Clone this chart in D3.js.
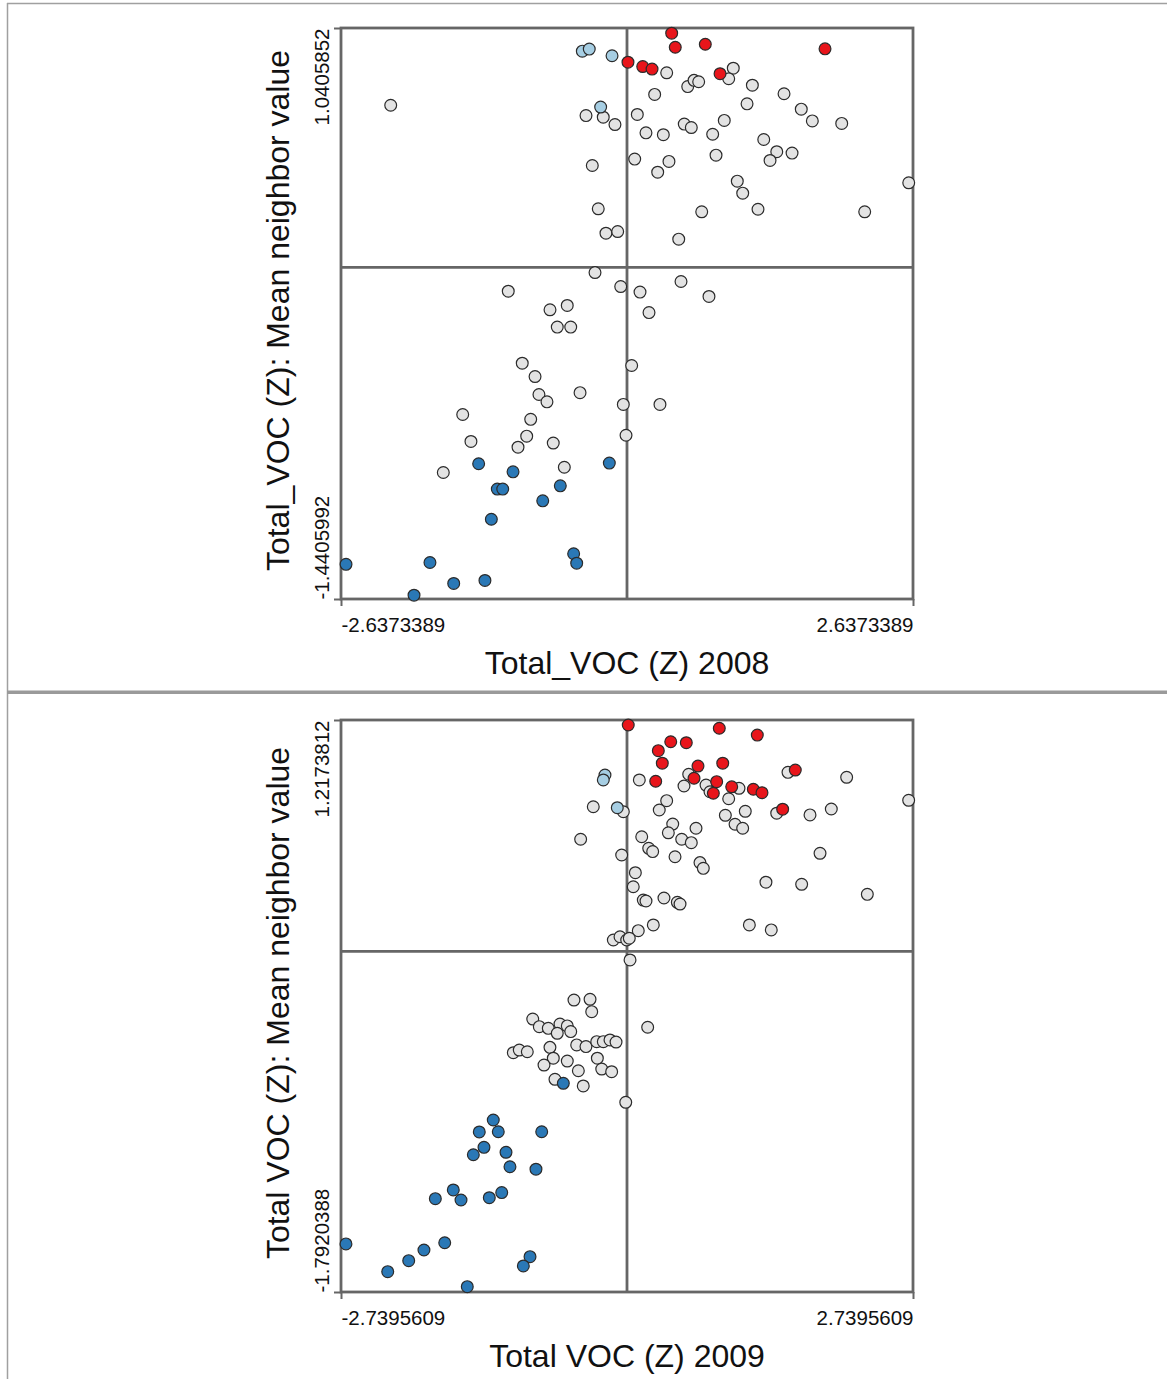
<!DOCTYPE html>
<html><head><meta charset="utf-8">
<script src="https://cdn.jsdelivr.net/npm/d3@7"></script>
<style>
html,body{margin:0;padding:0;background:#fff;}
svg{display:block;font-family:"Liberation Sans",Arial,sans-serif;}
</style></head>
<body>
<svg id="chart" width="1167" height="1379"></svg>
<script>
// ---------- 2008 panel ----------
const xDomain2008 = [-2.6373389, 2.6373389];
const yDomain2008 = [-1.4405992, 1.0405852];
const xTicks2008 = ["-2.6373389", "2.6373389"];
const yTicks2008 = ["-1.4405992", "1.0405852"];
const xTitle2008 = "Total_VOC (Z) 2008";
const yTitle2008 = "Total_VOC (Z): Mean neighbor value";

const ns08x = [-2.179,-0.378,-0.219,-0.111,-0.320,-0.265,-0.194,-0.086,-0.295,0.366,0.980,0.938,0.560,0.618,0.661,1.156,0.255,1.448,1.107,1.607,1.709,1.980,0.095,0.175,0.335,0.528,0.593,0.897,0.790,1.261,1.381,1.522,1.319,0.821,0.387,0.283,0.071,1.017,1.067,2.598,0.689,1.208,2.192,0.477,-0.058,0.120,0.498,0.756,0.203,0.304,-1.095,-0.710,-0.551,-0.643,-0.519,-0.966,-0.848,0.043,-0.812,-0.738,-0.433,-0.034,-1.515,-0.888,-0.925,-1.005,-1.439,-0.680,-0.009,-1.694,-0.578];
const ns08y = [0.705,0.660,0.653,0.621,0.443,0.255,0.149,0.156,-0.022,0.846,0.866,0.820,0.786,0.813,0.807,0.792,0.752,0.755,0.711,0.688,0.637,0.626,0.665,0.585,0.577,0.623,0.608,0.639,0.579,0.556,0.503,0.497,0.465,0.488,0.461,0.414,0.471,0.375,0.323,0.368,0.242,0.253,0.242,0.123,-0.083,-0.107,-0.061,-0.126,-0.196,-0.595,-0.103,-0.184,-0.165,-0.259,-0.259,-0.416,-0.474,-0.426,-0.552,-0.584,-0.544,-0.595,-0.639,-0.660,-0.733,-0.781,-0.756,-0.763,-0.729,-0.891,-0.868];
const hh08x = [0.412,0.445,0.722,1.826,0.009,0.145,0.231,0.858];
const hh08y = [1.018,0.957,0.970,0.950,0.892,0.873,0.862,0.842];
const lh08x = [-0.412,-0.348,-0.138,-0.243];
const lh08y = [0.940,0.949,0.920,0.697];
const ll08x = [-1.368,-1.051,-1.196,-1.146,-0.163,-0.615,-0.777,-1.251,-0.492,-0.464,-2.591,-1.817,-1.598,-1.310,-1.964];
const ll08y = [-0.853,-0.888,-0.963,-0.963,-0.850,-0.949,-1.014,-1.094,-1.244,-1.285,-1.290,-1.282,-1.373,-1.360,-1.424];

// ---------- 2009 panel ----------
const xDomain2009 = [-2.7395609, 2.7395609];
const yDomain2009 = [-1.7920388, 1.2173812];
const xTicks2009 = ["-2.7395609", "2.7395609"];
const yTicks2009 = ["-1.7920388", "1.2173812"];
const xTitle2009 = "Total VOC (Z) 2009";
const yTitle2009 = "Total VOC (Z): Mean neighbor value";

const ns09x = [-0.323,-0.035,-0.444,-0.051,-0.131,-0.067,-0.003,1.542,2.104,2.698,0.118,0.591,0.546,0.757,0.795,1.073,0.974,0.380,0.309,1.133,0.942,1.434,1.753,1.957,1.035,1.108,0.438,0.396,0.661,0.524,0.616,0.141,0.208,0.246,0.460,0.699,0.731,1.849,0.080,0.060,1.331,1.673,2.302,0.156,0.182,0.354,0.482,0.508,0.252,1.172,1.382,0.108,0.022,0.029,-0.508,-0.354,-0.338,-0.903,-0.840,-0.754,-0.642,-0.572,-0.668,-0.539,-0.482,-0.393,-0.290,-0.227,-0.163,-0.105,-0.738,-1.089,-1.032,-0.955,-0.706,-0.572,-0.795,-0.284,-0.242,-0.147,-0.466,-0.690,-0.419,0.198,-0.012];
const ns09y = [0.761,0.735,0.590,0.507,0.060,0.077,0.060,0.942,0.916,0.795,0.902,0.932,0.870,0.875,0.840,0.858,0.803,0.793,0.744,0.737,0.716,0.727,0.718,0.749,0.669,0.648,0.670,0.624,0.648,0.590,0.572,0.603,0.542,0.525,0.498,0.467,0.437,0.516,0.414,0.340,0.364,0.353,0.300,0.270,0.265,0.281,0.258,0.249,0.139,0.139,0.113,0.109,0.069,-0.045,-0.256,-0.252,-0.317,-0.356,-0.396,-0.405,-0.382,-0.392,-0.431,-0.422,-0.492,-0.501,-0.475,-0.475,-0.466,-0.477,-0.505,-0.533,-0.519,-0.528,-0.562,-0.577,-0.598,-0.562,-0.619,-0.633,-0.628,-0.673,-0.708,-0.399,-0.794];
const hh09x = [0.012,0.884,1.248,0.419,0.568,0.300,0.338,0.680,0.917,1.612,0.275,0.642,0.859,1.003,1.210,1.293,0.827,1.491];
const hh09y = [1.191,1.174,1.138,1.103,1.098,1.056,0.990,0.975,0.990,0.954,0.895,0.911,0.893,0.866,0.853,0.835,0.832,0.748];
const lh09x = [-0.211,-0.227,-0.093];
const lh09y = [0.928,0.902,0.756];
const ll09x = [-0.610,-1.281,-1.415,-1.233,-0.817,-1.370,-1.472,-1.159,-1.121,-0.872,-1.664,-1.590,-1.836,-1.319,-1.200,-2.692,-1.746,-1.945,-2.091,-2.292,-0.929,-0.993,-1.530];
const ll09y = [-0.694,-0.887,-0.950,-0.949,-0.949,-1.031,-1.070,-1.057,-1.133,-1.146,-1.255,-1.308,-1.301,-1.296,-1.269,-1.539,-1.533,-1.571,-1.627,-1.685,-1.606,-1.655,-1.764];

const clusterNames = ["Not Significant", "High-High", "Low-High", "Low-Low"];
const clusterColors = ["#e3e3e3", "#e8151b", "#a6cee3", "#2a78b6"];

const svg = d3.select("#chart");

// outer frame lines
svg.append("line").attr("x1", 7).attr("x2", 1167).attr("y1", 3.5).attr("y2", 3.5).attr("stroke", "#a0a0a0").attr("stroke-width", 1.5);
svg.append("line").attr("x1", 7.5).attr("x2", 7.5).attr("y1", 3).attr("y2", 1379).attr("stroke", "#a0a0a0").attr("stroke-width", 1.5);
svg.append("rect").attr("x", 7).attr("y", 690.5).attr("width", 1160).attr("height", 3.5).attr("fill", "#9a9a9a");

function panel(cfg) {
  const g = svg.append("g");
  const x = d3.scaleLinear().domain(cfg.xDomain).range([cfg.left, cfg.right]);
  const y = d3.scaleLinear().domain(cfg.yDomain).range([cfg.bottom, cfg.top]);
  const lineColor = "#666";

  // axes (ticks only at min/max)
  const xa = g.append("g").attr("transform", `translate(0,${cfg.bottom})`)
    .call(d3.axisBottom(x).tickValues(cfg.xDomain).tickSize(7).tickFormat((d, i) => cfg.xTicks[i]));
  xa.select(".domain").remove();
  xa.selectAll(".tick line").attr("stroke", lineColor).attr("stroke-width", 2);
  xa.selectAll(".tick text").attr("font-size", 20.5).attr("fill", "#111").attr("dy", null).attr("y", 33)
    .attr("text-anchor", (d, i) => i === 0 ? "start" : "end")
    .attr("font-family", "'Liberation Sans', Arial, sans-serif");

  const ya = g.append("g").attr("transform", `translate(${cfg.left},0)`)
    .call(d3.axisLeft(y).tickValues(cfg.yDomain).tickSize(7).tickFormat((d, i) => cfg.yTicks[i]));
  ya.select(".domain").remove();
  ya.selectAll(".tick line").attr("stroke", lineColor).attr("stroke-width", 2);
  ya.selectAll(".tick text").attr("font-size", 20.5).attr("fill", "#111")
    .attr("x", null).attr("dy", null)
    .attr("transform", "translate(-12,0) rotate(-90)")
    .attr("text-anchor", (d, i) => i === 0 ? "start" : "end")
    .attr("font-family", "'Liberation Sans', Arial, sans-serif");

  // zero lines
  g.append("line").attr("x1", x(0)).attr("x2", x(0)).attr("y1", cfg.top).attr("y2", cfg.bottom)
    .attr("stroke", lineColor).attr("stroke-width", 2.8);
  g.append("line").attr("x1", cfg.left).attr("x2", cfg.right).attr("y1", y(0)).attr("y2", y(0))
    .attr("stroke", lineColor).attr("stroke-width", 2.8);
  // frame
  g.append("rect").attr("x", cfg.left).attr("y", cfg.top)
    .attr("width", cfg.right - cfg.left).attr("height", cfg.bottom - cfg.top)
    .attr("fill", "none").attr("stroke", lineColor).attr("stroke-width", 2.8);

  // points
  cfg.groups.forEach((grp) => {
    const pts = grp.xs.map((v, i) => ({ x: v, y: grp.ys[i] }));
    g.append("g").selectAll("circle").data(pts).join("circle")
      .attr("cx", d => x(d.x)).attr("cy", d => y(d.y)).attr("r", 5.9)
      .attr("fill", clusterColors[grp.c]).attr("stroke", "#2b2b2b").attr("stroke-width", 1.2);
  });

  // titles
  g.append("text").attr("x", (cfg.left + cfg.right) / 2).attr("y", cfg.bottom + 75)
    .attr("text-anchor", "middle").attr("font-size", 32).attr("fill", "#111").text(cfg.xTitle);
  g.append("text").attr("transform", `translate(289,${(cfg.top + cfg.bottom) / 2 - 3}) rotate(-90)`)
    .attr("text-anchor", "middle").attr("font-size", 32).attr("fill", "#111").text(cfg.yTitle);
}

panel({
  left: 341, right: 913, top: 28, bottom: 599,
  xDomain: xDomain2008, yDomain: yDomain2008, xTicks: xTicks2008, yTicks: yTicks2008,
  xTitle: xTitle2008, yTitle: yTitle2008,
  groups: [
    { c: 0, xs: ns08x, ys: ns08y },
    { c: 1, xs: hh08x, ys: hh08y },
    { c: 2, xs: lh08x, ys: lh08y },
    { c: 3, xs: ll08x, ys: ll08y }
  ]
});
panel({
  left: 341, right: 913, top: 720, bottom: 1292,
  xDomain: xDomain2009, yDomain: yDomain2009, xTicks: xTicks2009, yTicks: yTicks2009,
  xTitle: xTitle2009, yTitle: yTitle2009,
  groups: [
    { c: 0, xs: ns09x, ys: ns09y },
    { c: 1, xs: hh09x, ys: hh09y },
    { c: 2, xs: lh09x, ys: lh09y },
    { c: 3, xs: ll09x, ys: ll09y }
  ]
});
</script>
</body></html>
